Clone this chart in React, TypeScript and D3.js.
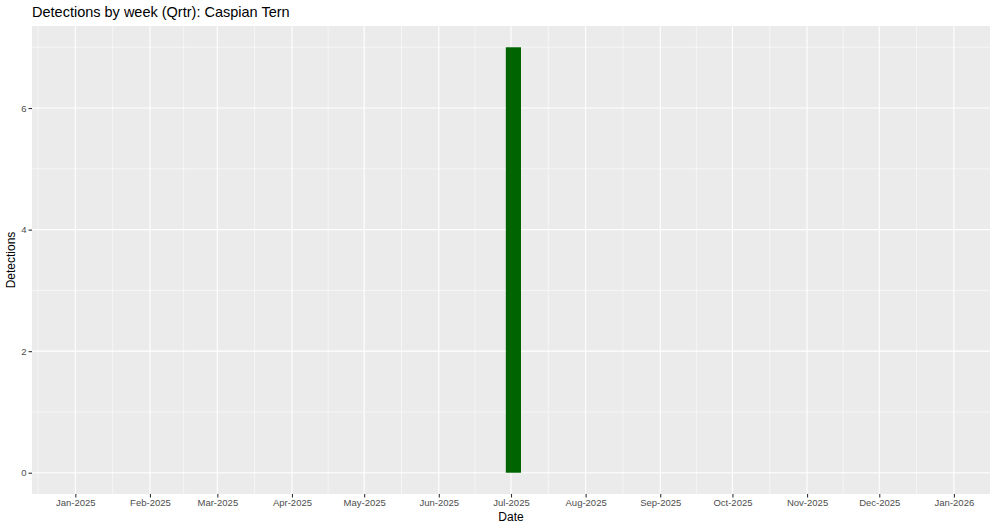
import { useEffect, useRef } from 'react';
import * as d3 from 'd3';

// weekly detection counts (week midpoints)
const weekDates = ['2025-07-02'];
const detections = [7];
const yTicks = [0, 2, 4, 6];
const xDomain = ['2024-12-14', '2026-01-16'];
const title = 'Detections by week (Qrtr): Caspian Tern';

const W = 1000;
const H = 530;
const margin = { top: 26, right: 10, bottom: 36, left: 32 };
const FONT = '"Liberation Sans", Arial, Helvetica, sans-serif';

export default function App() {
    const svgRef = useRef<SVGSVGElement>(null);

    useEffect(() => {
        if (!svgRef.current) return;
        const svg = d3.select(svgRef.current);
        svg.selectAll('*').remove();

        const innerW = W - margin.left - margin.right;
        const innerH = H - margin.top - margin.bottom;
        const parse = d3.utcParse('%Y-%m-%d');

        const x = d3.scaleUtc()
            .domain(xDomain.map(d => parse(d)!))
            .range([0, innerW]);
        const y = d3.scaleLinear()
            .domain([-0.35, 7.35])
            .range([innerH, 0]);

        const g = svg.append('g').attr('transform', `translate(${margin.left},${margin.top})`);

        g.append('rect')
            .attr('width', innerW)
            .attr('height', innerH)
            .attr('fill', '#EBEBEB');

        // month breaks + minor breaks halfway between
        const months = d3.utcMonth.range(parse('2024-11-01')!, parse('2026-03-01')!);
        const minor: Date[] = [];
        for (let i = 0; i < months.length - 1; i++) {
            minor.push(new Date((months[i].getTime() + months[i + 1].getTime()) / 2));
        }
        const inX = (d: Date) => x(d) >= 0 && x(d) <= innerW;
        const majorX = months.filter(d => d >= parse('2025-01-01')! && d <= parse('2026-01-01')!);

        g.selectAll('.minorx').data(minor.filter(inX)).join('line')
            .attr('x1', d => x(d)).attr('x2', d => x(d))
            .attr('y1', 0).attr('y2', innerH)
            .attr('stroke', '#fff').attr('stroke-width', 0.55);
        g.selectAll('.minory').data([1, 3, 5, 7]).join('line')
            .attr('x1', 0).attr('x2', innerW)
            .attr('y1', d => y(d)).attr('y2', d => y(d))
            .attr('stroke', '#fff').attr('stroke-width', 0.55);
        g.selectAll('.majorx').data(majorX).join('line')
            .attr('x1', d => x(d)).attr('x2', d => x(d))
            .attr('y1', 0).attr('y2', innerH)
            .attr('stroke', '#fff').attr('stroke-width', 1.1);
        g.selectAll('.majory').data(yTicks).join('line')
            .attr('x1', 0).attr('x2', innerW)
            .attr('y1', d => y(d)).attr('y2', d => y(d))
            .attr('stroke', '#fff').attr('stroke-width', 1.1);

        // bars: 0.9 of a week wide
        const barW = x(new Date(0 + 6.3 * 864e5)) - x(new Date(0));
        g.selectAll('.bar').data(weekDates.map((d, i) => ({ date: parse(d)!, n: detections[i] }))).join('rect')
            .attr('x', d => x(d.date) - barW / 2)
            .attr('width', barW)
            .attr('y', d => y(d.n))
            .attr('height', d => y(0) - y(d.n))
            .attr('fill', '#006400');

        // x axis
        const xa = g.append('g').attr('transform', `translate(0,${innerH})`)
            .call(d3.axisBottom(x).tickValues(majorX).tickFormat(d => d3.utcFormat('%b-%Y')(d as Date)).tickSize(3.5).tickPadding(2));
        xa.select('.domain').remove();
        xa.selectAll('line').attr('stroke', '#333').attr('stroke-width', 1.1);
        xa.selectAll('text').attr('fill', '#4D4D4D').attr('font-size', 9.5).attr('font-family', FONT);

        // y axis
        const ya = g.append('g')
            .call(d3.axisLeft(y).tickValues(yTicks).tickSize(3.5).tickPadding(2));
        ya.select('.domain').remove();
        ya.selectAll('line').attr('stroke', '#333').attr('stroke-width', 1.1);
        ya.selectAll('text').attr('fill', '#4D4D4D').attr('font-size', 9.5).attr('font-family', FONT);

        svg.append('text')
            .attr('x', margin.left + innerW / 2)
            .attr('y', 521)
            .attr('text-anchor', 'middle')
            .attr('font-family', FONT)
            .attr('font-size', 12)
            .attr('fill', '#000')
            .text('Date');

        svg.append('text')
            .attr('transform', `translate(15,${margin.top + innerH / 2}) rotate(-90)`)
            .attr('text-anchor', 'middle')
            .attr('font-family', FONT)
            .attr('font-size', 12)
            .attr('fill', '#000')
            .text('Detections');

        svg.append('text')
            .attr('x', margin.left)
            .attr('y', 17)
            .attr('font-family', FONT)
            .attr('font-size', 14.5)
            .attr('fill', '#000')
            .text(title);
    }, []);

    return (
        <svg ref={svgRef} width={W} height={H} style={{ position: 'absolute', left: 0, top: 0, background: '#fff' }} />
    );
}
